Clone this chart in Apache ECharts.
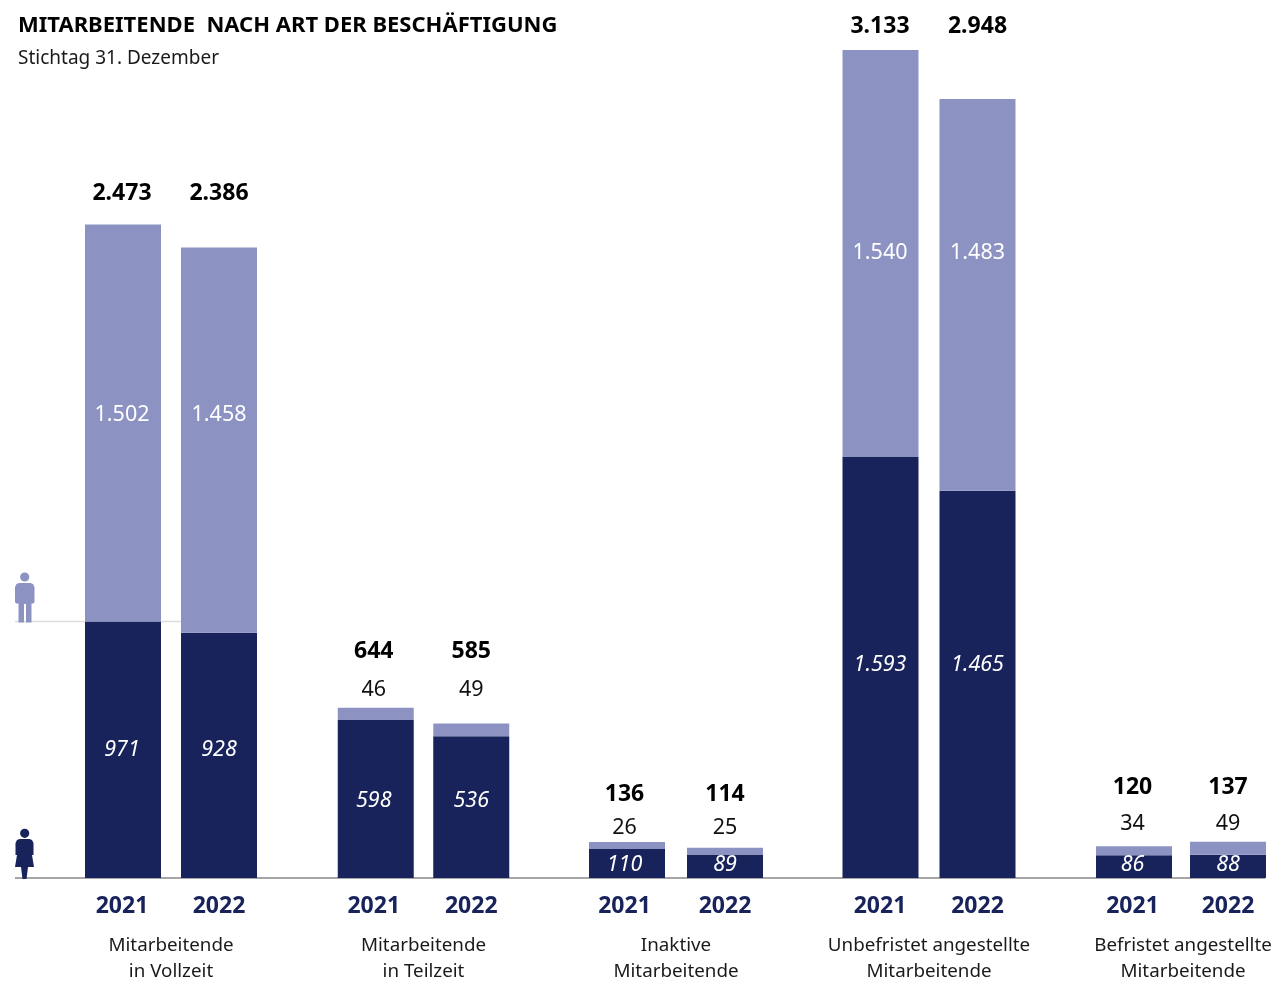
<!DOCTYPE html>
<html lang="de">
<head>
<meta charset="utf-8">
<title>Mitarbeitende nach Art der Beschäftigung</title>
<script src="https://cdn.jsdelivr.net/npm/echarts@6/dist/echarts.min.js"></script>
<style>html,body{margin:0;padding:0;background:#fff}#chart{width:1278px;height:983px}</style>
</head>
<body>
<div id="chart"></div>
<script>
// Data
const years = ['2021', '2022'];
const groupNames = [
  'Mitarbeitende\nin Vollzeit',
  'Mitarbeitende\nin Teilzeit',
  'Inaktive\nMitarbeitende',
  'Unbefristet angestellte\nMitarbeitende',
  'Befristet angestellte\nMitarbeitende'
];
const women = [[971, 928], [598, 536], [110, 89], [1593, 1465], [86, 88]];
const men = [[1502, 1458], [46, 49], [26, 25], [1540, 1483], [34, 49]];
const totals = [[2473, 2386], [644, 585], [136, 114], [3133, 2948], [120, 137]];

// Layout
const FONT = '"Noto Sans", "Open Sans", sans-serif';
const NAVY = '#18235b';
const LILAC = '#8c93c3';
const MAX = 3133, TOP = 50, BASE = 878;
const slots = [[75, 96], [328, 95.5], [578, 98], [832, 97], [1087, 94]];
// Vertical text centres, one row per group: women, men, total
const labelRows = [
  [[750, 750], [415, 415], [193.5, 193.5]],
  [[801, 801], [690, 690], [651.5, 651.5]],
  [[865, 865], [828, 828], [794.5, 794.5]],
  [[665, 665], [253, 253], [26, 26]],
  [[865, 865], [824, 824], [787.5, 787.5]]
];
const menInside = [true, false, false, true, false];
// The 2021 column of text sits slightly left of its bar
const textShift = [-1, -2, -2.5, -0.5, -1.5];
const nameShift = [0, 0, 0, 0, 2];

const fmt = v => v.toLocaleString('de-DE');
const chart = echarts.init(document.getElementById('chart'));

const grids = slots.map(([left, w]) => ({
  left, width: w * 2, top: TOP, height: BASE - TOP, outerBoundsMode: 'none'
}));
const xAxes = slots.map((_, i) => ({
  type: 'category', gridIndex: i,
  data: [
    { value: years[0], textStyle: { padding: [0, -textShift[i] * 2, 0, 0] } },
    { value: years[1] }
  ],
  axisLine: { show: false }, axisTick: { show: false },
  axisLabel: { margin: 16, fontFamily: FONT, fontWeight: 700, fontSize: 23, color: NAVY, lineHeight: 24 },
  name: groupNames[i], nameLocation: 'middle', nameGap: 55,
  nameTextStyle: { fontFamily: FONT, fontSize: 18.8, color: '#1a1a1a', lineHeight: 26, padding: [0, 0, 0, nameShift[i] * 2] }
}));
const yAxes = slots.map((_, i) => ({
  type: 'value', gridIndex: i, min: 0, max: MAX, show: false
}));

function baseSeries() {
  const out = [];
  slots.forEach((_, i) => {
    const common = { type: 'bar', xAxisIndex: i, yAxisIndex: i, stack: 'g' + i, barWidth: 76, silent: true, animation: false };
    out.push({ ...common, name: 'Frauen', data: women[i], itemStyle: { color: NAVY } });
    out.push({ ...common, name: 'Männer', data: men[i], itemStyle: { color: LILAC } });
    out.push({ ...common, name: 'Gesamt', data: [0, 0], itemStyle: { color: 'transparent' } });
  });
  return out;
}

chart.setOption({
  animation: false,
  backgroundColor: '#fff',
  title: {
    text: 'MITARBEITENDE  NACH ART DER BESCHÄFTIGUNG',
    subtext: 'Stichtag 31. Dezember',
    left: 18, top: 15, itemGap: 12, padding: 0,
    textStyle: { fontFamily: FONT, fontWeight: 700, fontSize: 22, color: '#000' },
    subtextStyle: { fontFamily: FONT, fontSize: 19, color: '#1a1a1a' }
  },
  grid: grids, xAxis: xAxes, yAxis: yAxes, series: baseSeries()
});

// Text sits on fixed rows across both years, so each offset is measured from its bar
const px = (i, v) => chart.convertToPixel({ yAxisIndex: i }, v);
const labelled = [];
slots.forEach((_, i) => {
  const row = build => years.map((y, k) => build(k));
  const dx = k => (k === 0 ? textShift[i] : 0);
  labelled.push({
    data: row(k => ({
      value: women[i][k],
      label: {
        show: true, position: 'inside', formatter: fmt(women[i][k]),
        offset: [dx(k), labelRows[i][0][k] - px(i, women[i][k] / 2)],
        fontFamily: FONT, fontStyle: 'italic', fontSize: 21.5, color: '#fff'
      }
    }))
  });
  labelled.push({
    data: row(k => ({
      value: men[i][k],
      label: {
        show: true, position: 'inside', formatter: fmt(men[i][k]),
        offset: [dx(k), labelRows[i][1][k] - px(i, women[i][k] + men[i][k] / 2)],
        fontFamily: FONT, fontSize: 21.5, color: menInside[i] ? '#fff' : '#111'
      }
    }))
  });
  labelled.push({
    data: row(k => ({
      value: 0,
      label: {
        show: true, position: 'inside', formatter: fmt(totals[i][k]),
        offset: [dx(k), labelRows[i][2][k] - px(i, women[i][k] + men[i][k])],
        fontFamily: FONT, fontWeight: 700, fontSize: 23, color: '#000'
      }
    }))
  });
});

const yZero = px(0, 0), yRef = px(0, women[0][0]);
const lastRight = slots[4][0] + slots[4][1] * 2 - 10;
const refRight = slots[0][0] + slots[0][1] + 10;

chart.setOption({
  series: labelled,
  graphic: [
    { type: 'line', z: 0, shape: { x1: 15, y1: yRef, x2: refRight, y2: yRef }, style: { stroke: '#dedede', lineWidth: 1.5 } },
    { type: 'line', z: 0, shape: { x1: 15, y1: yZero, x2: lastRight, y2: yZero }, style: { stroke: '#a6a6a6', lineWidth: 2 } },
    // Pictogram, man
    { type: 'circle', shape: { cx: 24.7, cy: 577, r: 4.6 }, style: { fill: LILAC } },
    { type: 'polygon', shape: { points: [[19, 583], [30.5, 583], [33, 584], [34.5, 587], [34.5, 602], [33.5, 603.5], [31.5, 603.5], [31.5, 622.5], [26, 622.5], [26, 604], [24, 604], [24, 622.5], [18.5, 622.5], [18.5, 603.5], [16, 603.5], [15, 602], [15, 587], [16.5, 584]] }, style: { fill: LILAC } },
    // Pictogram, woman
    { type: 'circle', shape: { cx: 24.7, cy: 833.3, r: 4.6 }, style: { fill: NAVY } },
    { type: 'polygon', shape: { points: [[19.5, 839], [29.5, 839], [32, 840], [33.5, 843], [33.5, 855], [32, 855], [34, 867], [28, 867], [26.5, 879], [22.5, 879], [21, 867], [15, 867], [17, 855], [15.5, 855], [15.5, 843], [17, 840]] }, style: { fill: NAVY } }
  ]
});
</script>
</body>
</html>
